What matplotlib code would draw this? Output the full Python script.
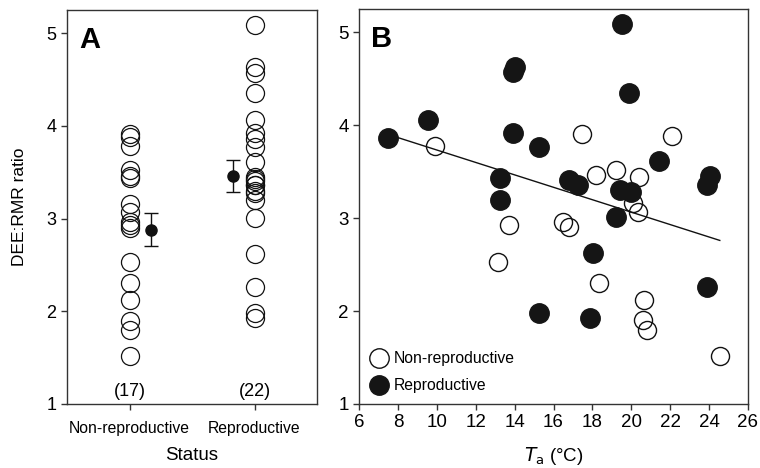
import numpy as np
import matplotlib
matplotlib.use('Agg')
from matplotlib import pyplot as plt
from matplotlib.lines import Line2D

plt.rcParams['font.family'] = ['Liberation Sans', 'DejaVu Sans']

# panel B data (also used for the strips in panel A)
nonrep_ta = [9.9, 13.7, 13.15, 17.45, 22.1, 18.2, 19.2, 20.4, 20.1, 20.35,
             16.5, 16.8, 18.35, 20.65, 20.6, 20.8, 24.55]
nonrep_ratio = [3.78, 2.93, 2.53, 3.91, 3.88, 3.46, 3.52, 3.44, 3.16, 3.07,
                2.96, 2.90, 2.30, 2.12, 1.90, 1.80, 1.52]
rep_ta = [7.5, 9.55, 14.0, 13.9, 13.9, 13.25, 13.25, 19.5, 19.9, 15.25, 16.8,
          17.25, 21.4, 19.4, 20.0, 19.2, 24.05, 23.9, 18.05, 15.25, 17.9, 23.9]
rep_ratio = [3.86, 4.06, 4.63, 4.57, 3.92, 3.43, 3.20, 5.09, 4.35, 3.77, 3.41,
             3.36, 3.61, 3.30, 3.28, 3.01, 3.45, 3.36, 2.62, 1.98, 1.93, 2.26]

# regression line (endpoints)
fit_x = [7.5, 24.55]
fit_y = [3.90, 2.76]

# panel A summary
groups = ['Non-reproductive', 'Reproductive']
group_n = ['(17)', '(22)']
group_mean = [2.88, 3.46]
group_se = [0.18, 0.17]

fig = plt.figure(figsize=(7.6, 4.68), dpi=100)
spine_col = '#333333'

def style_axes(ax):
    for s in ax.spines.values():
        s.set_color(spine_col)
        s.set_linewidth(1.0)
    ax.tick_params(direction='out', length=4, width=1, color=spine_col)

# ---- panel A
axA = fig.add_axes([67/760, 64/468, 250/760, 394/468])
style_axes(axA)
axA.plot([1]*len(nonrep_ratio), nonrep_ratio, 'o', ms=13, mfc='none',
         mec='#111111', mew=0.9)
axA.plot([2]*len(rep_ratio), rep_ratio, 'o', ms=13, mfc='none',
         mec='#111111', mew=0.9)
axA.errorbar([1.17, 1.83], group_mean, yerr=group_se, fmt='o', ms=8,
             color='#111111', ecolor='#111111', elinewidth=1, capsize=5,
             capthick=1)
for i, lab in enumerate(group_n):
    axA.text(i + 1, 1.13, lab, ha='center', va='center', fontsize=13)
axA.set_xlim(0.5, 2.5)
axA.set_ylim(1, 5.25)
axA.set_xticks([1, 2])
axA.set_xticklabels(groups, fontsize=11.3)
axA.set_yticks([1, 2, 3, 4, 5])
axA.tick_params(axis='y', labelsize=13)
axA.tick_params(axis='x', pad=8)
axA.set_xlabel('Status', fontsize=13.5, labelpad=8)
axA.set_ylabel('DEE:RMR ratio', fontsize=12.5, labelpad=14)
axA.text(0.05, 0.96, 'A', transform=axA.transAxes, fontsize=21,
         fontweight='bold', va='top', ha='left')

# ---- panel B
axB = fig.add_axes([359/760, 64/468, 389/760, 395/468])
style_axes(axB)
axB.plot(fit_x, fit_y, color='#111111', lw=1)
axB.plot(nonrep_ta, nonrep_ratio, 'o', ms=13, mfc='none', mec='#111111',
         mew=1.0)
axB.plot(rep_ta, rep_ratio, 'o', ms=14, mfc='#151515', mec='#151515')
axB.set_xlim(6, 26)
axB.set_ylim(1, 5.25)
axB.set_xticks(np.arange(6, 27, 2))
axB.set_yticks([1, 2, 3, 4, 5])
axB.tick_params(labelsize=13.5)
axB.set_xlabel('$\\mathit{T}_{\\mathrm{a}}$ (\u00b0C)', fontsize=13.5, labelpad=10)
axB.text(0.03, 0.96, 'B', transform=axB.transAxes, fontsize=21,
         fontweight='bold', va='top', ha='left')
handles = [Line2D([], [], ls='none', marker='o', ms=14, mfc='white',
                  mec='#111111', mew=1.0),
           Line2D([], [], ls='none', marker='o', ms=14, mfc='#151515',
                  mec='#151515')]
axB.legend(handles, groups, loc='lower left', frameon=False, fontsize=11.3,
           handletextpad=0.3, borderaxespad=0.3, labelspacing=0.75,
           handlelength=1.2)

fig.savefig('out.png', dpi=100)
